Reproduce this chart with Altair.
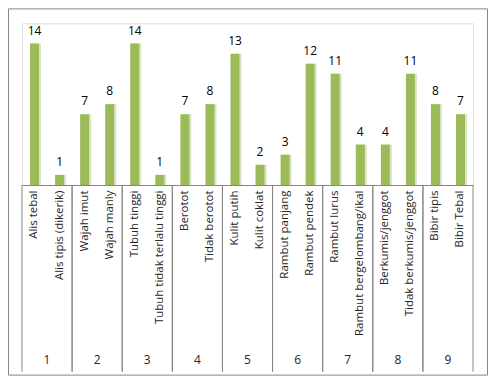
import altair as alt
import pandas as pd

categories = ["Alis tebal", "Alis tipis (dikerik)", "Wajah imut", "Wajah manly",
              "Tubuh tinggi", "Tubuh tidak terlalu tinggi", "Berotot", "Tidak berotot",
              "Kulit putih", "Kulit coklat", "Rambut panjang", "Rambut pendek",
              "Rambut lurus", "Rambut bergelombang/ikal", "Berkumis/jenggot",
              "Tidak berkumis/jenggot", "Bibir tipis", "Bibir Tebal"]
values = [14, 1, 7, 8, 14, 1, 7, 8, 13, 2, 3, 12, 11, 4, 4, 11, 8, 7]
groups = [1, 1, 2, 2, 3, 3, 4, 4, 5, 5, 6, 6, 7, 7, 8, 8, 9, 9]

df = pd.DataFrame({"cat": categories, "val": values, "grp": groups})
df["pos"] = df.groupby("grp").cumcount()
first = df[df["pos"] == 0]
last = df[df["pos"] == 1]

W, H = 452, 162
FONT = "Open Sans"

xsc = alt.Scale(domain=categories, paddingInner=0, paddingOuter=0)
xenc = alt.X("cat:N", sort=categories, scale=xsc,
             axis=alt.Axis(title=None, labelAngle=-90, ticks=False, labelPadding=5,
                           labelFont=FONT, labelFontSize=11.5, labelColor="#262626",
                           domainColor="#868686", labelLimit=200))
ysc = alt.Scale(domain=[0, 16])

base = alt.Chart(df)

shadow = base.mark_bar(size=10, color="#d9e3c6", xOffset=1.5).encode(
    x=xenc, y=alt.Y("val:Q", scale=ysc, axis=None))
bars = base.mark_bar(size=9, color="#9bbb59").encode(
    x=xenc, y=alt.Y("val:Q", scale=ysc, axis=None))
labels = base.mark_text(baseline="bottom", dy=-6, font=FONT, fontSize=12, color="#000000").encode(
    x=xenc, y=alt.Y("val:Q", scale=ysc), text="val:Q")

rules_l = alt.Chart(first).mark_rule(color="#868686", strokeWidth=1).encode(
    x=alt.X("cat:N", sort=categories, scale=xsc, bandPosition=0),
    y=alt.value(H), y2=alt.value(H + 187))
rules_r = alt.Chart(last).mark_rule(color="#868686", strokeWidth=1).encode(
    x=alt.X("cat:N", sort=categories, scale=xsc, bandPosition=1),
    y=alt.value(H), y2=alt.value(H + 187))
grp_text = alt.Chart(first).mark_text(font=FONT, fontSize=12, color="#262626").encode(
    x=alt.X("cat:N", sort=categories, scale=xsc, bandPosition=1),
    y=alt.value(H + 175), text="grp:N")

frame = alt.Chart(pd.DataFrame({"a": [0]})).mark_rect(
    fill=None, stroke="#868686", strokeWidth=1).encode(
    x=alt.value(-13.5), x2=alt.value(W + 14.5),
    y=alt.value(-14.5), y2=alt.value(H + 190.5))

chart = alt.layer(frame, shadow, bars, labels, rules_l, rules_r, grp_text).properties(
    width=W, height=H,
    autosize=alt.AutoSizeParams(type="none"),
    padding={"left": 14, "top": 15, "right": 16, "bottom": 192},
).configure_view(stroke=None).configure(background="white")

chart.save("out.html", embed_options={"renderer": "svg", "actions": False})
